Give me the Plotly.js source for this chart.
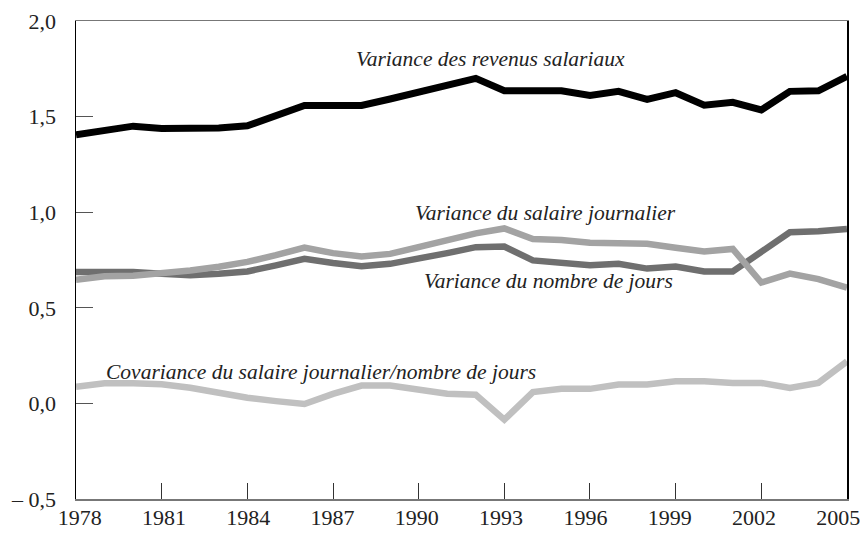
<!DOCTYPE html>
<html>
<head>
<meta charset="utf-8">
<script src="https://cdn.plot.ly/plotly-3.0.1.min.js"></script>
<style>html,body{margin:0;padding:0;background:#fff;}#chart{width:864px;height:534px;}</style>
</head>
<body>
<div id="chart"></div>
<script>
const years = [1978,1979,1980,1981,1982,1983,1984,1985,1986,1987,1988,1989,1990,1991,1992,1993,1994,1995,1996,1997,1998,1999,2000,2001,2002,2003,2004,2005];
const varRevenus = [1.405,1.425,1.45,1.438,1.438,1.44,1.452,1.505,1.558,1.558,1.558,1.592,1.628,1.662,1.70,1.635,1.635,1.635,1.61,1.632,1.59,1.625,1.56,1.575,1.535,1.632,1.635,1.71];
const varSalaire = [0.647,0.665,0.668,0.678,0.695,0.715,0.74,0.775,0.815,0.786,0.768,0.782,0.82,0.851,0.889,0.915,0.86,0.855,0.84,0.838,0.835,0.814,0.794,0.808,0.632,0.679,0.65,0.605];
const varJours = [0.687,0.687,0.687,0.678,0.67,0.678,0.69,0.722,0.756,0.734,0.718,0.73,0.762,0.786,0.817,0.82,0.748,0.739,0.722,0.73,0.705,0.716,0.69,0.69,0.795,0.895,0.9,0.912];
const covariance = [0.087,0.105,0.105,0.10,0.082,0.052,0.03,0.012,-0.003,0.05,0.093,0.093,0.073,0.05,0.045,-0.085,0.059,0.076,0.076,0.099,0.099,0.116,0.116,0.107,0.107,0.081,0.107,0.22];
const xTicks = [1978,1981,1984,1987,1990,1993,1996,1999,2002,2005];
const yTicks = [-0.5,0,0.5,1,1.5,2];
const yTickText = ['– 0,5','0,0','0,5','1,0','1,5','2,0'];
const labels = [
  {text:'Variance des revenus salariaux', x:1987.75, y:1.80},
  {text:'Variance du salaire journalier', x:1989.8, y:0.997},
  {text:'Variance du nombre de jours', x:1990.12, y:0.639},
  {text:'Covariance du salaire journalier/nombre de jours', x:1978.97, y:0.166}
];

const serif = 'Liberation Serif, Times New Roman, serif';
const traces = [
  {x:years, y:covariance, mode:'lines', line:{color:'#c0c0c0', width:6.5}},
  {x:years, y:varJours, mode:'lines', line:{color:'#6f6f6f', width:6.5}},
  {x:years, y:varSalaire, mode:'lines', line:{color:'#a3a3a3', width:6.5}},
  {x:years, y:varRevenus, mode:'lines', line:{color:'#000000', width:7}},
  {x:[], y:[], xaxis:'x2', mode:'lines', hoverinfo:'skip'}
];

const layout = {
  width:864, height:534,
  margin:{l:76, r:17, t:21, b:35},
  paper_bgcolor:'#fff', plot_bgcolor:'#fff',
  showlegend:false,
  font:{family:serif, color:'#222', size:22},
  xaxis:{
    range:[1977.999,2005.001], tickvals:xTicks, showticklabels:false,
    ticks:'inside', ticklen:16, tickcolor:'#333', tickwidth:1,
    showgrid:false, zeroline:false,
    showline:true, linecolor:'#777', linewidth:1.5, mirror:true
  },
  xaxis2:{
    overlaying:'x', anchor:'y', side:'bottom',
    range:[1977.87,2005.31], tickvals:xTicks, ticktext:xTicks.map(String),
    ticks:'', showgrid:false, zeroline:false, showline:false,
    ticklabeloverflow:'allow', ticklabelstandoff:3,
    tickfont:{family:serif, size:22, color:'#222'}
  },
  yaxis:{
    range:[-0.5,2.0], tickvals:yTicks, ticktext:yTickText,
    ticks:'inside', ticklen:17, tickcolor:'#555', tickwidth:1,
    showgrid:false, zeroline:false,
    showline:true, linecolor:'#000', linewidth:1.5, mirror:true,
    ticklabelstandoff:14,
    tickfont:{family:serif, size:22, color:'#222'}
  },
  annotations: labels.map(l => ({
    text:l.text, x:l.x, y:l.y, xref:'x', yref:'y',
    xanchor:'left', yanchor:'middle', showarrow:false,
    font:{family:serif, size:21.5, color:'#222', style:'italic'}
  }))
};

Plotly.newPlot('chart', traces, layout, {staticPlot:true, displayModeBar:false});
</script>
</body>
</html>
